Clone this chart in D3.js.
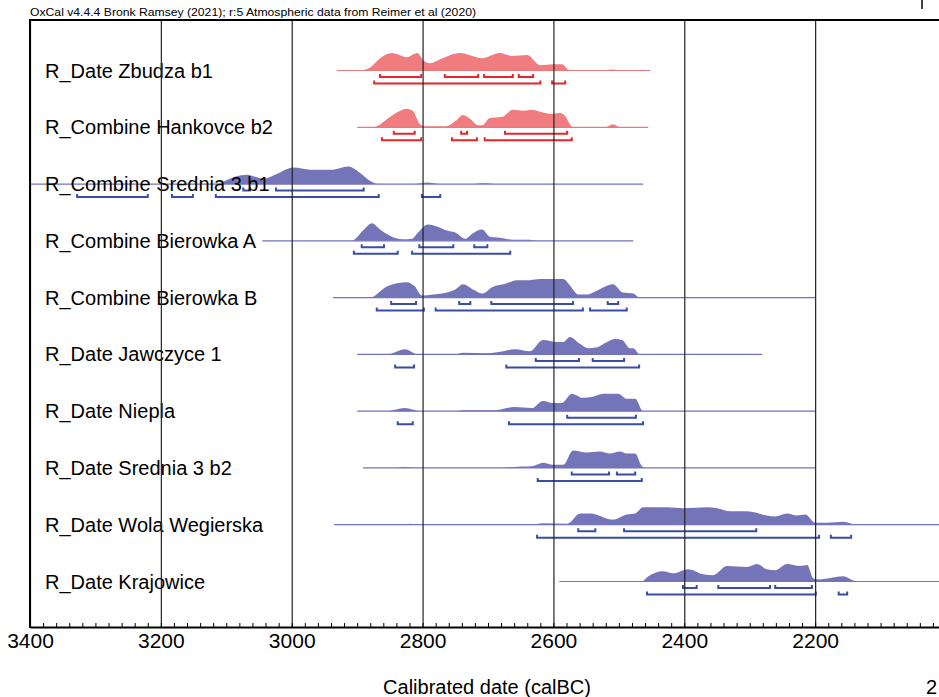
<!DOCTYPE html>
<html>
<head>
<meta charset="utf-8">
<script src="https://cdn.jsdelivr.net/npm/d3@7"></script>
<style>
  body { margin: 0; background: #fff; }
  svg { display: block; font-family: Arial, "Liberation Sans", sans-serif; }
</style>
</head>
<body>
<svg id="chart" width="939" height="697"></svg>
<script>
// row labels, top to bottom
var labels = [
    "R_Date Zbudza b1",
    "R_Combine Hankovce b2",
    "R_Combine Srednia 3 b1",
    "R_Combine Bierowka A",
    "R_Combine Bierowka B",
    "R_Date Jawczyce 1",
    "R_Date Niepla",
    "R_Date Srednia 3 b2",
    "R_Date Wola Wegierska",
    "R_Date Krajowice"
];
// red = the two groups drawn in red, the rest blue
var groups = ["red", "red", "blue", "blue", "blue", "blue", "blue", "blue", "blue", "blue"];

// extent of the thin baseline line (calBC)
var spans = [
    [2931, 2452], [2900, 2455], [3400, 2463], [3045, 2478], [2937, 2200],
    [2900, 2281], [2900, 2200], [2891, 2200], [2935, 2000], [2591, 2000]
];

// posterior density, [year calBC, relative probability]
var zbudza = [[2931,0],[2896,0],[2880,3],[2865,12],[2847,17],[2824,13],[2808,17],[2799,10],[2789,7],[2773,11],[2743,17],[2709,12],[2682,17],[2663,14],[2640,15],[2620,5],[2601,6],[2587,6],[2575,0],[2529,0],[2509,1],[2491,0],[2452,0]];
var hankovce = [[2900,0],[2877,0],[2870,1],[2850,10],[2834,16],[2825,18],[2815,16],[2804,3],[2796,1],[2763,1],[2750,6],[2738,12],[2727,8],[2715,2],[2709,2],[2697,9],[2679,10],[2662,17],[2646,16],[2633,17],[2620,15],[2605,13],[2590,14],[2581,10],[2575,3],[2570,0],[2521,0],[2509,3],[2498,0],[2455,0]];
var srednia1 = [[3400,0],[3117,0],[3102,3],[3087,7],[3068,9],[3056,7],[3044,5],[3022,10],[2998,16],[2972,14],[2937,14],[2914,17],[2896,11],[2880,3],[2868,0],[2812,0],[2793,1.5],[2773,0],[2720,0],[2708,0.7],[2689,0],[2463,0]];
var bierowkaA = [[3045,0],[2908,0],[2891,10],[2877,17],[2865,11],[2850,5],[2831,1.5],[2816,2],[2807,8],[2792,16],[2778,14],[2763,10],[2750,8],[2735,2],[2724,7],[2709,11],[2697,4],[2682,3],[2669,1.5],[2656,1],[2636,1],[2625,0],[2478,0]];
var bierowkaB = [[2937,0],[2880,0],[2854,11],[2824,15],[2812,11],[2801,2],[2784,3],[2763,5],[2750,8],[2738,13],[2723,8],[2708,4],[2694,10],[2671,14],[2656,17],[2636,17],[2620,18],[2585,18],[2575,12],[2562,3],[2549,3],[2533,7],[2509,13],[2494,5],[2478,4],[2468,0],[2200,0]];
var jawczyce = [[2900,0],[2854,0],[2827,5],[2807,0],[2750,0],[2738,1.5],[2701,1],[2677,3],[2659,5],[2636,3],[2616,14],[2595,12],[2585,12],[2575,17],[2559,10],[2547,6],[2533,7],[2518,12],[2506,15],[2495,14],[2483,6],[2478,6],[2468,0],[2281,0]];
var niepla = [[2900,0],[2854,0],[2827,3],[2804,0],[2750,0],[2738,1],[2692,1],[2659,4],[2633,3],[2616,10],[2601,8],[2587,8],[2572,17],[2555,13],[2540,14],[2524,17],[2501,17],[2488,12],[2475,12],[2463,0],[2200,0]];
var srednia2 = [[2891,0],[2842,0],[2827,1],[2812,0],[2682,0],[2662,1],[2631,2],[2616,5],[2601,3],[2585,3],[2570,17],[2549,15],[2529,16],[2514,14],[2498,16],[2488,14],[2475,14],[2465,2],[2457,0],[2200,0]];
var wola = [[2935,0],[2834,0],[2819,1],[2804,0],[2636,0],[2616,1.5],[2579,1],[2559,11],[2544,11],[2509,5],[2488,10],[2475,11],[2463,17],[2426,17],[2402,16],[2365,17],[2350,16],[2330,13],[2304,13],[2274,9],[2261,8],[2243,11],[2228,9],[2215,10],[2200,2],[2182,2],[2157,3],[2136,0],[2070,0.5],[2000,0]];
var krajowice = [[2591,0],[2465,0],[2455,5],[2433,10],[2417,8],[2394,12],[2371,7],[2356,6],[2335,15],[2304,14],[2289,17],[2274,12],[2261,11],[2243,17],[2223,15],[2212,16],[2203,3],[2193,2],[2157,5],[2142,1],[2131,0],[2000,0]];
var densities = [zbudza, hankovce, srednia1, bierowkaA, bierowkaB, jawczyce, niepla, srednia2, wola, krajowice];

// highest posterior density ranges (calBC)
var range68 = [
    [[2865,2802],[2766,2715],[2706,2662],[2653,2631]],
    [[2844,2812],[2741,2732],[2674,2579]],
    [[3074,3064],[3024,2890]],
    [[2893,2859],[2805,2753],[2721,2701]],
    [[2848,2810],[2744,2727],[2695,2570],[2517,2501]],
    [[2627,2561],[2540,2492]],
    [[2579,2474]],
    [[2572,2515],[2503,2475]],
    [[2562,2536],[2492,2290]],
    [[2402,2381],[2348,2269],[2261,2205]]
];
var range95 = [
    [[2874,2620],[2602,2582]],
    [[2862,2802],[2755,2717],[2705,2572]],
    [[3328,3220],[3183,3151],[3116,2867],[2801,2773]],
    [[2905,2838],[2816,2666]],
    [[2870,2798],[2780,2555],[2544,2488]],
    [[2842,2813],[2672,2469]],
    [[2838,2815],[2668,2463]],
    [[2624,2465]],
    [[2625,2194],[2176,2145]],
    [[2457,2199],[2164,2151]]
];

var majorTicks = [3400, 3200, 3000, 2800, 2600, 2400, 2200];
var minorTicks = d3.range(3400, 1999, -20);

var colours = {
    red:  {fill: "#f07c80", line: "#e87a7c", bar: "#e5262c"},
    blue: {fill: "#7474b9", line: "#7272c0", bar: "#3a4ca6"}
};

var svg = d3.select("#chart");
var frameTop = 20, axisY = 627;

var x = d3.scaleLinear().domain([3400, 2000]).range([30, 946]);
var y = d3.scalePoint().domain(labels).range([70.5, 581.5]);
var h = d3.scaleLinear().domain([0, 18]).range([0, 18.5]);

// densities
var area = d3.area()
    .curve(d3.curveMonotoneX)
    .x(function (d) { return x(d[0]); })
    .y1(function (d) { return -h(d[1]); })
    .y0(0);

var rows = svg.append("g").selectAll("g")
    .data(labels)
    .enter().append("g")
    .attr("transform", function (d) { return "translate(0," + y(d) + ")"; });

rows.append("path")
    .attr("d", function (d, i) { return area(densities[i]); })
    .attr("fill", function (d, i) { return colours[groups[i]].fill; });

rows.append("line")
    .attr("x1", function (d, i) { return x(spans[i][0]); })
    .attr("x2", function (d, i) { return x(spans[i][1]); })
    .attr("stroke", function (d, i) { return colours[groups[i]].line; })
    .attr("stroke-width", 1.2);

// grid lines + axis
svg.append("g")
    .attr("transform", "translate(0," + axisY + ")")
    .call(d3.axisTop(x).tickValues(majorTicks).tickSize(axisY - frameTop).tickFormat(""))
    .call(function (g) { g.select(".domain").remove(); })
    .selectAll("line").attr("stroke", "#222").attr("stroke-width", 1.2);

svg.append("g")
    .attr("transform", "translate(0," + axisY + ")")
    .call(d3.axisTop(x).tickValues(minorTicks).tickSize(4).tickSizeOuter(0).tickFormat(""))
    .call(function (g) {
        g.select(".domain").attr("stroke-width", 1.8);
        g.selectAll("line").attr("stroke-width", 1);
    });

svg.append("g")
    .attr("transform", "translate(0," + axisY + ")")
    .call(d3.axisBottom(x).tickValues(majorTicks).tickSize(0).tickPadding(6).tickFormat(d3.format("d")))
    .call(function (g) {
        g.select(".domain").remove();
        g.selectAll("text").attr("font-size", 21).attr("font-family", "Arial, Liberation Sans, sans-serif").attr("fill", "#000");
    });

// hpd brackets
function brackets(sel, ranges, off, cls) {
    sel.each(function (d, i) {
        var colour = colours[groups[i]].bar;
        d3.select(this).selectAll("path." + cls)
            .data(ranges[i])
            .enter().append("path")
            .attr("class", cls)
            .attr("fill", "none")
            .attr("stroke", colour)
            .attr("stroke-width", 2)
            .attr("d", function (r) {
                return "M" + x(r[0]) + "," + (off - 3) + "V" + off + "H" + x(r[1]) + "V" + (off - 3);
            });
    });
}
brackets(rows, range68, 6.5, "r68");
brackets(rows, range95, 13, "r95");

rows.append("text")
    .attr("x", 45)
    .attr("y", 7)
    .attr("font-size", 20)
    .text(function (d) { return d; });

// frame
svg.append("line").attr("x1", 30).attr("x2", 30).attr("y1", frameTop - 1).attr("y2", axisY + 1)
    .attr("stroke", "#000").attr("stroke-width", 2);
svg.append("line").attr("x1", 29).attr("x2", 939).attr("y1", frameTop).attr("y2", frameTop)
    .attr("stroke", "#000").attr("stroke-width", 2);
svg.append("line").attr("x1", 922).attr("x2", 922).attr("y1", 0).attr("y2", 9)
    .attr("stroke", "#000").attr("stroke-width", 1.5);

svg.append("text")
    .attr("x", 30).attr("y", 16)
    .attr("font-size", 11)
    .attr("textLength", 446).attr("lengthAdjust", "spacingAndGlyphs")
    .text("OxCal v4.4.4 Bronk Ramsey (2021); r:5 Atmospheric data from Reimer et al (2020)");

svg.append("text")
    .attr("x", 487).attr("y", 694)
    .attr("text-anchor", "middle")
    .attr("font-size", 20)
    .text("Calibrated date (calBC)");

svg.append("text")
    .attr("x", 926).attr("y", 694)
    .attr("font-size", 20)
    .text("2");
</script>
</body>
</html>
